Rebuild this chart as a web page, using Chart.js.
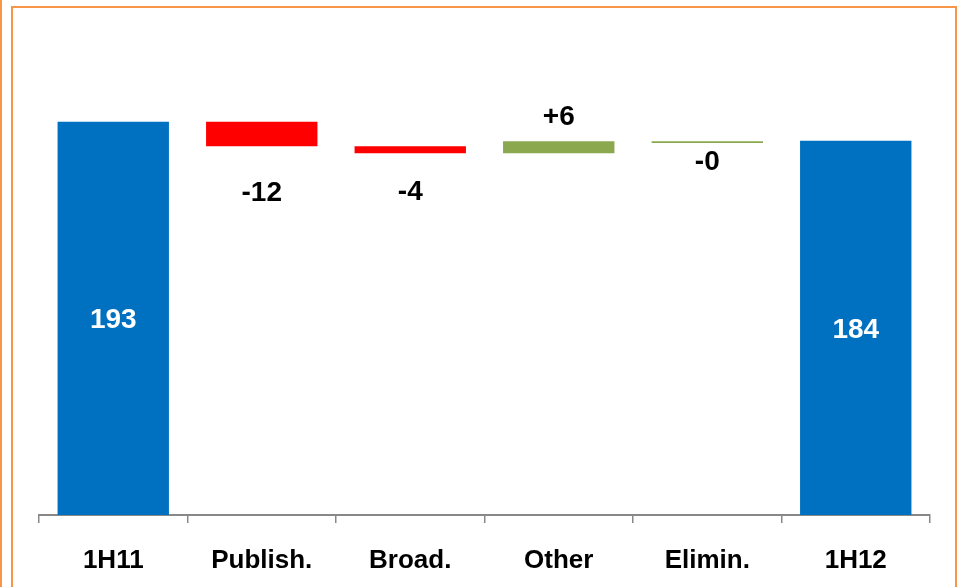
<!DOCTYPE html>
<html>
<head>
<meta charset="utf-8">
<script src="https://cdn.jsdelivr.net/npm/chart.js@4"></script>
<style>
  html, body { margin: 0; padding: 0; background: #ffffff; overflow: hidden; }
  #wrap { position: relative; width: 959px; height: 587px; overflow: hidden; }
  #edge { position: absolute; left: 0; top: 0; width: 2px; height: 587px; background: #F79646; }
  #frame { position: absolute; left: 11px; top: 6px; width: 946px; height: 600px; border: 2px solid #F79646; box-sizing: border-box; }
  canvas { position: absolute; left: 0; top: 0; }
</style>
</head>
<body>
<div id="wrap">
  <div id="edge"></div>
  <div id="frame"></div>
  <canvas id="chart" width="959" height="592"></canvas>
</div>
<script>
// waterfall: each bar is a floating [low, high] range
const categories = ['1H11', 'Publish.', 'Broad.', 'Other', 'Elimin.', '1H12'];
const barLows = [0, 181, 177.6, 177.6, 182.6, 0];
const barHighs = [193, 193, 181, 183.4, 183.4, 183.7];
const valueLabels = ['193', '-12', '-4', '+6', '-0', '184'];

const barColors = ['#0070C0', '#FF0000', '#FF0000', '#8BA84F', '#8BA84F', '#0070C0'];
// where each value label sits: 'inside' = centred in bar, else pixel offset from bar edge
const labelPlace = [
    { mode: 'inside' },
    { mode: 'below', off: 47 },
    { mode: 'below', off: 39 },
    { mode: 'above', off: 24 },
    { mode: 'below', off: 19 },
    { mode: 'inside' },
];

const valueLabelPlugin = {
    id: 'valueLabels',
    afterDatasetsDraw(chart) {
        const ctx = chart.ctx;
        const meta = chart.getDatasetMeta(0);
        ctx.save();
        ctx.font = 'bold 28px "Liberation Sans", Arial, sans-serif';
        ctx.textAlign = 'center';
        ctx.textBaseline = 'middle';
        meta.data.forEach((bar, i) => {
            const top = Math.min(bar.y, bar.base);
            const bottom = Math.max(bar.y, bar.base);
            const p = labelPlace[i];
            let y;
            if (p.mode === 'inside') {
                y = (top + bottom) / 2 + 2;
                ctx.fillStyle = '#ffffff';
            } else if (p.mode === 'above') {
                y = top - p.off;
                ctx.fillStyle = '#000000';
            } else {
                y = bottom + p.off;
                ctx.fillStyle = '#000000';
            }
            ctx.fillText(valueLabels[i], bar.x, y);
        });
        ctx.restore();
    }
};

new Chart(document.getElementById('chart'), {
    type: 'bar',
    data: {
        labels: categories,
        datasets: [{
            data: categories.map((c, i) => [barLows[i], barHighs[i]]),
            backgroundColor: barColors,
            borderWidth: 0,
            borderSkipped: false,
            barPercentage: 0.75,
            categoryPercentage: 1.0,
        }]
    },
    options: {
        responsive: false,
        animation: false,
        layout: { padding: { left: 39, right: 29, top: 26, bottom: -7 } },
        plugins: {
            legend: { display: false },
            tooltip: { enabled: false }
        },
        scales: {
            x: {
                grid: {
                    drawOnChartArea: false,
                    drawTicks: true,
                    tickLength: 8,
                    color: '#888888',
                    lineWidth: 1.5,
                },
                border: { color: '#888888', width: 2 },
                ticks: {
                    color: '#000000',
                    padding: 25,
                    font: { family: '"Liberation Sans", Arial, sans-serif', size: 26, weight: 'bold', lineHeight: 1.0 }
                }
            },
            y: {
                display: false,
                min: 0,
                max: 240
            }
        }
    },
    plugins: [valueLabelPlugin]
});
</script>
</body>
</html>
